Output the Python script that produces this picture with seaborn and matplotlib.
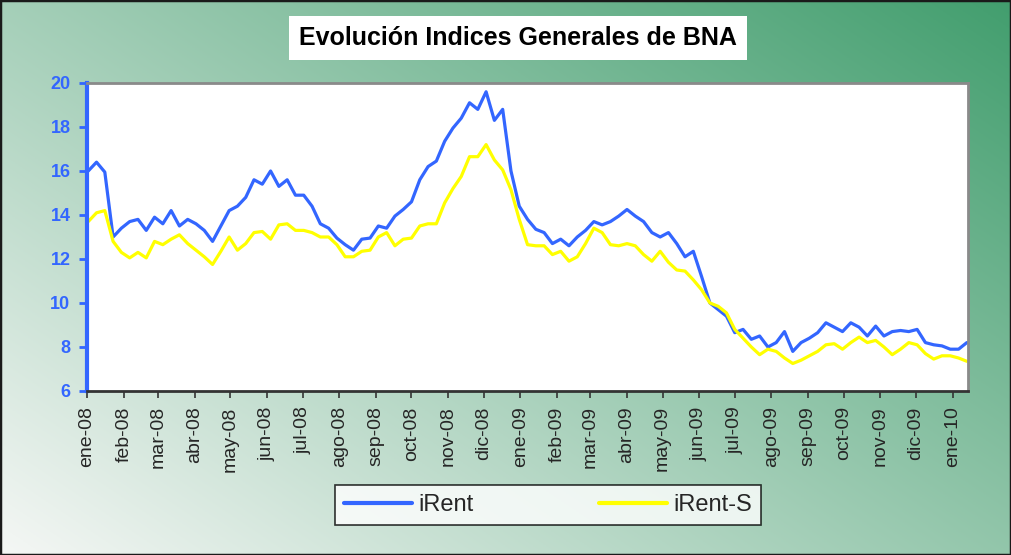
import numpy as np
import pandas as pd
import seaborn as sns
import matplotlib.pyplot as plt
from matplotlib.patches import Rectangle

# weekly values, starting 2 Jan 2008
irent = [16.0, 16.4, 15.95, 13.0, 13.4, 13.7, 13.8, 13.3, 13.9, 13.6,
         14.2, 13.5, 13.8, 13.6, 13.3, 12.8, 13.5, 14.2, 14.4, 14.8,
         15.6, 15.4, 16.0, 15.3, 15.6, 14.9, 14.9, 14.4, 13.6, 13.4,
         12.95, 12.65, 12.4, 12.9, 12.95, 13.5, 13.4, 13.95, 14.25, 14.6,
         15.6, 16.2, 16.45, 17.35, 17.95, 18.4, 19.1, 18.8, 19.6, 18.3,
         18.8, 16.0, 14.4, 13.8, 13.35, 13.2, 12.7, 12.9, 12.6, 13.0,
         13.3, 13.7, 13.55, 13.7, 13.95, 14.25, 13.95, 13.7, 13.2, 13.0,
         13.2, 12.7, 12.1, 12.35, 11.2, 10.0, 9.7, 9.4, 8.65, 8.8,
         8.35, 8.5, 8.0, 8.2, 8.7, 7.8, 8.2, 8.4, 8.65, 9.1,
         8.9, 8.7, 9.1, 8.9, 8.5, 8.95, 8.5, 8.7, 8.75, 8.7,
         8.8, 8.2, 8.1, 8.05, 7.9, 7.9, 8.2]
irent_s = [13.7, 14.1, 14.2, 12.8, 12.3, 12.05, 12.3, 12.05, 12.8, 12.65,
           12.9, 13.1, 12.7, 12.4, 12.1, 11.75, 12.35, 13.0, 12.4, 12.7,
           13.2, 13.25, 12.9, 13.55, 13.6, 13.3, 13.3, 13.2, 13.0, 13.0,
           12.65, 12.1, 12.1, 12.35, 12.4, 13.0, 13.2, 12.6, 12.9, 12.95,
           13.5, 13.6, 13.6, 14.55, 15.2, 15.75, 16.65, 16.65, 17.2, 16.5,
           16.05, 15.15, 13.8, 12.65, 12.6, 12.6, 12.2, 12.35, 11.9, 12.1,
           12.7, 13.4, 13.2, 12.65, 12.6, 12.7, 12.6, 12.2, 11.9, 12.35,
           11.85, 11.5, 11.45, 11.05, 10.6, 10.0, 9.85, 9.55, 8.8, 8.4,
           8.0, 7.65, 7.9, 7.8, 7.5, 7.25, 7.4, 7.6, 7.8, 8.1,
           8.15, 7.9, 8.2, 8.45, 8.2, 8.3, 8.0, 7.65, 7.9, 8.2,
           8.1, 7.7, 7.45, 7.6, 7.6, 7.5, 7.35]
series_names = ['iRent', 'iRent-S']
month_labels = ['ene-08', 'feb-08', 'mar-08', 'abr-08', 'may-08', 'jun-08',
                'jul-08', 'ago-08', 'sep-08', 'oct-08', 'nov-08', 'dic-08',
                'ene-09', 'feb-09', 'mar-09', 'abr-09', 'may-09', 'jun-09',
                'jul-09', 'ago-09', 'sep-09', 'oct-09', 'nov-09', 'dic-09',
                'ene-10']
y_ticks = [6, 8, 10, 12, 14, 16, 18, 20]

fechas = pd.date_range('2008-01-02', periods=len(irent), freq='7D')
df = pd.concat([
    pd.DataFrame({'fecha': fechas, 'valor': irent, 'serie': series_names[0]}),
    pd.DataFrame({'fecha': fechas, 'valor': irent_s, 'serie': series_names[1]}),
])
month_ticks = pd.date_range('2008-01-01', periods=len(month_labels), freq='MS')

sns.set_style('white')
plt.rcParams['font.family'] = ['Liberation Sans', 'DejaVu Sans']

fig = plt.figure(figsize=(10.11, 5.55), dpi=100)

# diagonal gradient background (white bottom-left -> green top-right)
bg = fig.add_axes([0, 0, 1, 1], zorder=-10)
gx, gy = np.meshgrid(np.linspace(0, 1, 400), np.linspace(1, 0, 220))
t = np.clip(0.55 * gx + 0.45 * gy, 0, 1)[..., None]
c0 = np.array([245, 247, 245]) / 255
c1 = np.array([66, 158, 110]) / 255
bg.imshow(c0 + (c1 - c0) * t, aspect='auto', extent=[0, 1, 0, 1])
bg.set_axis_off()
fig.patches.append(Rectangle((0, 0), 1, 1, transform=fig.transFigure,
                             fill=False, edgecolor='#1a1a1a', lw=2.5))

ax = fig.add_axes([0.0861, 0.2955, 0.8714, 0.555])
ax.set_facecolor('white')
sns.lineplot(data=df, x='fecha', y='valor', hue='serie',
             palette=['#3366ff', '#ffff00'], linewidth=2.3, legend=False, ax=ax)

ax.set_xlim(pd.Timestamp('2008-01-01'), pd.Timestamp('2010-01-14'))
ax.set_ylim(6, 20)
ax.set_xticks(month_ticks)
ax.set_xticklabels(month_labels, rotation=90, fontsize=14)
ax.set_yticks(y_ticks)
ax.set_yticklabels([str(v) for v in y_ticks], fontsize=13,
                   fontweight='bold', color='#3366ff')
ax.set_xlabel('')
ax.set_ylabel('')
ax.tick_params(axis='x', direction='out', length=5, width=1.2,
               color='#333333', pad=6, bottom=True)
ax.tick_params(axis='y', direction='out', length=6, width=2,
               color='#3366ff', pad=6, left=True)

ax.spines['left'].set_color('#3366ff')
ax.spines['left'].set_linewidth(3)
ax.spines['bottom'].set_color('#333333')
ax.spines['bottom'].set_linewidth(2)
for s in ['top', 'right']:
    ax.spines[s].set_color('#8a8a8a')
    ax.spines[s].set_linewidth(2)

fig.text(0.512, 0.932, 'Evolución Indices Generales de BNA', ha='center',
         va='center', fontsize=18, fontweight='bold', color='black',
         bbox=dict(boxstyle='square,pad=0.4', facecolor='white',
                   edgecolor='none'))

leg = fig.legend(handles=ax.lines[:2], labels=series_names, loc='center',
                 bbox_to_anchor=(0.542, 0.090), ncol=2, fontsize=17,
                 frameon=True, fancybox=False, handlelength=2.9,
                 handletextpad=0.25, columnspacing=5.3, borderpad=0.4,
                 borderaxespad=0, handleheight=0.7)
leg.get_frame().set_edgecolor('black')
leg.get_frame().set_linewidth(1.2)
for line in leg.get_lines():
    line.set_linewidth(3)

fig.savefig('out.png', dpi=100)
